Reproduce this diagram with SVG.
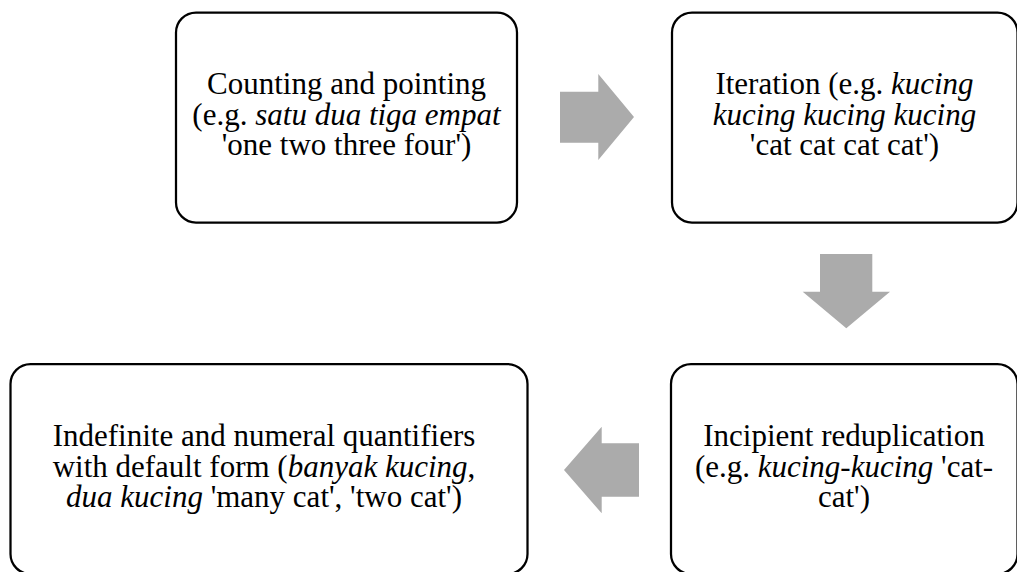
<svg xmlns="http://www.w3.org/2000/svg" width="1017" height="572" viewBox="0 0 1017 572">
  <style>
    .box { fill: #ffffff; stroke: #000000; stroke-width: 2.25; }
    .arrow { fill: #ABABAB; }
    text { font-family: "Liberation Serif", "Times New Roman", serif; font-size: 31px; fill: #000000; text-anchor: middle; }
    .it { font-style: italic; }
  </style>
  <rect width="1017" height="572" fill="#ffffff"/>

  <!-- block arrows between the stages -->
  <g id="connectors">
    <polygon class="arrow" points="560,91.7 598.3,91.7 598.3,74 634,117 598.3,160 598.3,142.7 560,142.7"/>
    <polygon class="arrow" points="820,254 872.3,254 872.3,291.7 890,291.7 846.3,328.3 802.7,291.7 820,291.7"/>
    <polygon class="arrow" points="639,443.3 601.7,443.3 601.7,426.7 564,470 601.7,513.3 601.7,496.7 639,496.7"/>
  </g>

  <!-- each stage: rounded box with a three-line centred label -->
  <g id="counting">
    <rect class="box" x="176" y="12.5" width="341" height="210" rx="20" ry="20"/>
    <text x="346.5" y="94">Counting and pointing</text>
    <text x="346.5" y="125">(e.g. <tspan class="it">satu dua tiga empat</tspan></text>
    <text x="346.5" y="155">'one two three four')</text>
  </g>

  <g id="iteration">
    <rect class="box" x="672" y="12.5" width="345.5" height="210" rx="20" ry="20"/>
    <text x="844.5" y="94">Iteration (e.g. <tspan class="it">kucing</tspan></text>
    <text x="844.5" y="125" class="it">kucing kucing kucing</text>
    <text x="844.5" y="155">'cat cat cat cat')</text>
  </g>

  <g id="reduplication">
    <rect class="box" x="671" y="364" width="346.5" height="210" rx="20" ry="20"/>
    <text x="844" y="446">Incipient reduplication</text>
    <text x="844" y="477">(e.g. <tspan class="it">kucing-kucing</tspan> 'cat-</text>
    <text x="844" y="507">cat')</text>
  </g>

  <g id="quantifiers">
    <rect class="box" x="10.5" y="364" width="517" height="210" rx="20" ry="20"/>
    <text x="264" y="446">Indefinite and numeral quantifiers</text>
    <text x="264" y="477">with default form (<tspan class="it">banyak kucing</tspan>,</text>
    <text x="264" y="507"><tspan class="it">dua kucing</tspan> 'many cat', 'two cat')</text>
  </g>
</svg>
